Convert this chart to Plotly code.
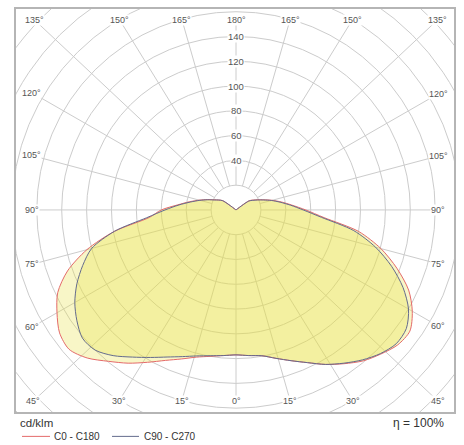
import numpy as np
import plotly.graph_objects as go

# ---------------- data (cd/klm) ----------------
gamma = list(range(0, 185, 5))  # 0..180 deg

# C0-C180 plane (red): right half = C0, left half = C180
c0 = [117, 118, 119.5, 124, 129.5, 136, 144, 151.5, 159, 164.5, 169.5, 170.5, 163.5,
      153, 137.5, 120.5, 100, 71, 56, 45, 37, 30, 24, 19.5, 16, 13,
      0, 0, 0, 0, 0, 0, 0, 0, 0, 0, 0]
c180 = [117, 118, 120, 123, 128, 134, 142, 151, 159.5, 169, 175, 173, 166,
        158, 144, 124, 99, 70, 60, 47, 38, 30.5, 24.5, 19.5, 16, 13,
        0, 0, 0, 0, 0, 0, 0, 0, 0, 0, 0]
# C90-C270 plane (blue): right half = C90, left half = C270
c90 = [117, 118, 119.5, 124, 129.5, 136, 144, 151, 158, 164, 168, 167, 160,
       148, 133, 116, 96, 69, 54, 44, 36, 29.5, 23.5, 19, 15.5, 12.5,
       0, 0, 0, 0, 0, 0, 0, 0, 0, 0, 0]
c270 = [117, 118, 119.5, 122, 126, 131, 137.5, 145, 153.5, 160, 161, 156, 149.5,
        141, 131, 120, 99, 72, 57, 46, 37, 30, 24, 19, 16, 13,
        0, 0, 0, 0, 0, 0, 0, 0, 0, 0, 0]

ring_values = [20, 40, 60, 80, 100, 120, 140, 160, 180, 200, 220, 240]
ring_labels = [40, 60, 80, 100, 120, 140]
angle_ticks = list(range(0, 360, 15))

series_names = ["C0 - C180", "C90 - C270"]
unit_text = "cd/klm"
eta_text = "η = 100%"

# ---------------- styling ----------------
W_PX, H_PX = 464, 445
M_L, M_R, M_T, M_B = 16, 10, 7, 33
X_RANGE = [-176.7, 175.1]
Y_RANGE = [-163.1, 162.2]
GRID = "#cccccc"
LABEL_COLOR = "#555555"
FONT = "Liberation Sans, Arial, sans-serif"
RED = "#e46a6a"
BLUE = "#646b8c"
FILL = "rgba(232,226,70,0.30)"
INSET_X = 12.5
INSET_Y = 8.5

PLOT_W = W_PX - M_L - M_R
PLOT_H = H_PX - M_T - M_B


def px_to_paper(px, py):
    return (px - M_L) / PLOT_W, (H_PX - M_B - py) / PLOT_H


def half_to_xy(vals, side):
    g = np.radians(gamma)
    v = np.asarray(vals, dtype=float)
    return side * v * np.sin(g), -v * np.cos(g)


def closed_curve(right_vals, left_vals):
    xr, yr = half_to_xy(right_vals, 1)
    xl, yl = half_to_xy(left_vals, -1)
    x = np.concatenate([xr, xl[::-1]])
    y = np.concatenate([yr, yl[::-1]])
    return x, y


def label_pos(a):
    t = np.radians(a)
    dx, dy = np.sin(t), -np.cos(t)
    W = X_RANGE[1] if dx > 0 else -X_RANGE[0]
    H = Y_RANGE[1] if dy > 0 else -Y_RANGE[0]
    t_side = W / abs(dx) if abs(dx) > 1e-9 else np.inf
    t_tb = H / abs(dy) if abs(dy) > 1e-9 else np.inf
    if t_tb <= t_side:
        x = dx * t_tb
        lim = W - INSET_X
        x = max(-lim, min(lim, x))
        y = np.sign(dy) * (H - INSET_Y)
    else:
        x = np.sign(dx) * (W - INSET_X)
        y = dy * (W - INSET_X) / abs(dx)
    return x, y


fig = go.Figure()

curves = [(c0, c180, RED, series_names[0]), (c90, c270, BLUE, series_names[1])]
for rv, lv, col, name in curves:
    x, y = closed_curve(rv, lv)
    fig.add_trace(go.Scatter(x=x, y=y, mode="lines", fill="toself", fillcolor=FILL,
                             line=dict(width=0, shape="spline", smoothing=0.8),
                             hoverinfo="skip", showlegend=False))
for rv, lv, col, name in curves:
    x, y = closed_curve(rv, lv)
    fig.add_trace(go.Scatter(x=x, y=y, mode="lines", name=name, showlegend=False,
                             line=dict(color=col, width=1, shape="spline", smoothing=0.8)))

shapes = []
for r in ring_values:
    shapes.append(dict(type="circle", xref="x", yref="y", x0=-r, y0=-r, x1=r, y1=r,
                       line=dict(color=GRID, width=1), layer="below"))

annotations = []
r0 = ring_values[0]
for a in angle_ticks:
    lx, ly = label_pos(a)
    t = np.radians(a)
    shapes.append(dict(type="line", xref="x", yref="y",
                       x0=r0 * np.sin(t), y0=-r0 * np.cos(t), x1=lx, y1=ly,
                       line=dict(color=GRID, width=1), layer="below"))
    txt = a if a <= 180 else 360 - a
    annotations.append(dict(x=lx, y=ly, xref="x", yref="y", text=f"{txt}°",
                            showarrow=False, font=dict(size=9, color=LABEL_COLOR, family=FONT),
                            bgcolor="white", borderpad=0))

for r in ring_labels:
    annotations.append(dict(x=0, y=r, xref="x", yref="y", text=str(r), showarrow=False,
                            font=dict(size=9.5, color=LABEL_COLOR, family=FONT),
                            bgcolor="white", borderpad=0))

ux, uy = px_to_paper(18, 423)
annotations.append(dict(x=ux, y=uy, xref="paper", yref="paper", text=unit_text,
                        xanchor="left", yanchor="middle", showarrow=False,
                        font=dict(size=11.5, color="#333333", family=FONT)))
ex, ey = px_to_paper(446, 423)
annotations.append(dict(x=ex, y=ey, xref="paper", yref="paper", text=eta_text,
                        xanchor="right", yanchor="middle", showarrow=False,
                        font=dict(size=12, color="#333333", family=FONT)))

# custom legend
legend_items = [(22, 50, 52, RED, series_names[0]), (112, 139, 142, BLUE, series_names[1])]
for lx0, lx1, tx, col, name in legend_items:
    px0, py0 = px_to_paper(lx0, 436.5)
    px1, _ = px_to_paper(lx1, 436.5)
    shapes.append(dict(type="line", xref="paper", yref="paper", x0=px0, x1=px1, y0=py0, y1=py0,
                       line=dict(color=col, width=1)))
    tpx, tpy = px_to_paper(tx, 436.5)
    annotations.append(dict(x=tpx, y=tpy, xref="paper", yref="paper", text=name,
                            xanchor="left", yanchor="middle", showarrow=False,
                            font=dict(size=10, color="#333333", family=FONT)))

axis_common = dict(showgrid=False, zeroline=False, showticklabels=False, ticks="",
                   showline=True, mirror=True, linecolor="#b5b5b5", linewidth=1.5,
                   fixedrange=True)

fig.update_layout(
    width=W_PX, height=H_PX,
    margin=dict(l=M_L, r=M_R, t=M_T, b=M_B),
    paper_bgcolor="white", plot_bgcolor="white",
    xaxis=dict(range=X_RANGE, **axis_common),
    yaxis=dict(range=Y_RANGE, **axis_common),
    shapes=shapes, annotations=annotations,
    showlegend=False,
    font=dict(family=FONT),
)

fig.write_html("out.html", config={"displayModeBar": False},
               post_script="document.body.style.margin='0';document.body.style.overflow='hidden';")
